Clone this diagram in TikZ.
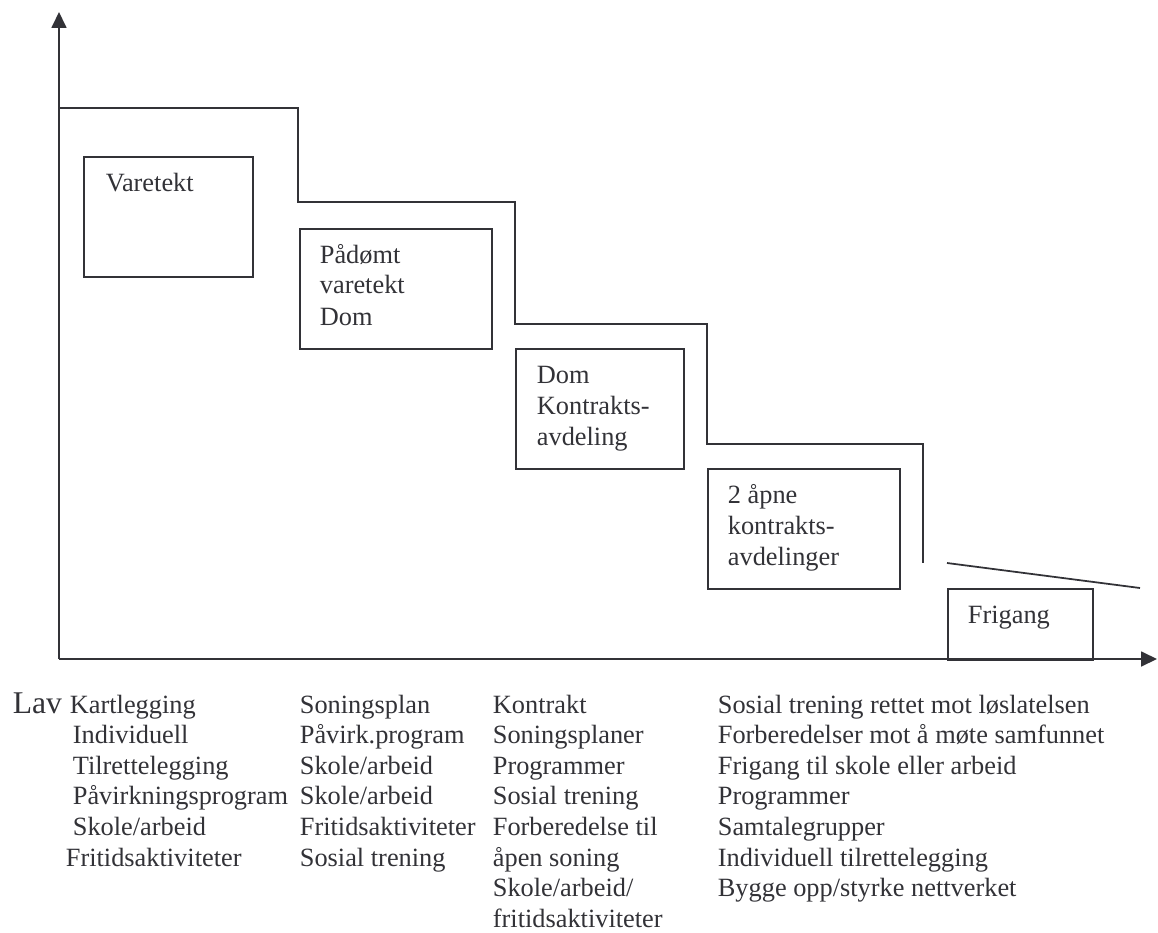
\documentclass[tikz,border=0pt]{standalone}
\usepackage{fontspec}
\setmainfont{Liberation Serif}
\usetikzlibrary{arrows.meta}
\definecolor{ink}{RGB}{50,50,55}

\begin{document}
\begin{tikzpicture}[x=0.02cm,y=-0.02cm,>={Triangle[length=0.32cm,width=0.3cm]},
		line width=1pt,color=ink,
		font=\fontsize{15}{17.4}\selectfont,
		stage/.style={draw,inner sep=0pt,minimum height=2.4cm,anchor=north west},
		linetext/.style={inner sep=0pt,anchor=base west}
		]
		\useasboundingbox (0,0) rectangle (1158,932);
		\coordinate (origin) at (59,659);
		\coordinate (ytop) at (59,12);
		\coordinate (xend) at (1157,659);
		\draw[->] (origin) -- (ytop);
		\draw[->] (origin) -- (xend);
		
		\coordinate (s0) at (59,108);
		\coordinate (s1) at (298,202);
		\coordinate (s2) at (515,324);
		\coordinate (s3) at (707,444);
		\coordinate (s4) at (923,563);
		\draw (s0) -| (s1) -| (s2) -| (s3) -| (s4);
		\coordinate (r0) at (947,563);
		\coordinate (r1) at (1140,588);
		\draw (r0) -- (r1);
		
		\node[stage,minimum width=3.38cm] (varetekt) at (83,156) {};
		\node[stage,minimum width=3.84cm] (paadomt) at (299,228) {};
		\node[stage,minimum width=3.36cm] (dom) at (515,348) {};
		\node[stage,minimum width=3.84cm] (aapne) at (707,468) {};
		\node[stage,minimum width=2.9cm,minimum height=1.42cm] (frigang) at (947,588) {};
		
		\node[linetext] (varetekt-1) at ([shift={(22,36)}]varetekt.north west) {Varetekt};
		\foreach \txt [count=\i] in {Pådømt,varetekt,Dom}
			\node[linetext] (paadomt-\i) at ([shift={(20,{35+31*(\i-1)})}]paadomt.north west) {\txt};
		\foreach \txt [count=\i] in {Dom,Kontrakts-,avdeling}
			\node[linetext] (dom-\i) at ([shift={(21,{35+31*(\i-1)})}]dom.north west) {\txt};
		\foreach \txt [count=\i] in {2 åpne,kontrakts-,avdelinger}
			\node[linetext] (aapne-\i) at ([shift={(20,{35+31*(\i-1)})}]aapne.north west) {\txt};
		\node[linetext] (frigang-1) at ([shift={(20,35)}]frigang.north west) {Frigang};
		
		\node[linetext,font=\fontsize{18}{21}\selectfont] (lav) at (12,713) {Lav};
		\foreach \dx/\txt [count=\i] in {69/Kartlegging,72/Individuell,72/Tilrettelegging,72/Påvirkningsprogram,72/{Skole/arbeid},65/Fritidsaktiviteter}
			\node[linetext] (list1-\i) at (\dx,{713+30.6*(\i-1)}) {\txt};
		\foreach \txt [count=\i] in {Soningsplan,Påvirk.program,Skole/arbeid,Skole/arbeid,Fritidsaktiviteter,Sosial trening}
			\node[linetext] (list2-\i) at (299,{713+30.6*(\i-1)}) {\txt};
		\foreach \txt [count=\i] in {Kontrakt,Soningsplaner,Programmer,Sosial trening,Forberedelse til,åpen soning,Skole/arbeid/,fritidsaktiviteter}
			\node[linetext] (list3-\i) at (492,{713+30.6*(\i-1)}) {\txt};
		\foreach \txt [count=\i] in {Sosial trening rettet mot løslatelsen,Forberedelser mot å møte samfunnet,Frigang til skole eller arbeid,Programmer,Samtalegrupper,Individuell tilrettelegging,Bygge opp/styrke nettverket}
			\node[linetext] (list4-\i) at (717,{713+30.6*(\i-1)}) {\txt};
\end{tikzpicture}
\end{document}
